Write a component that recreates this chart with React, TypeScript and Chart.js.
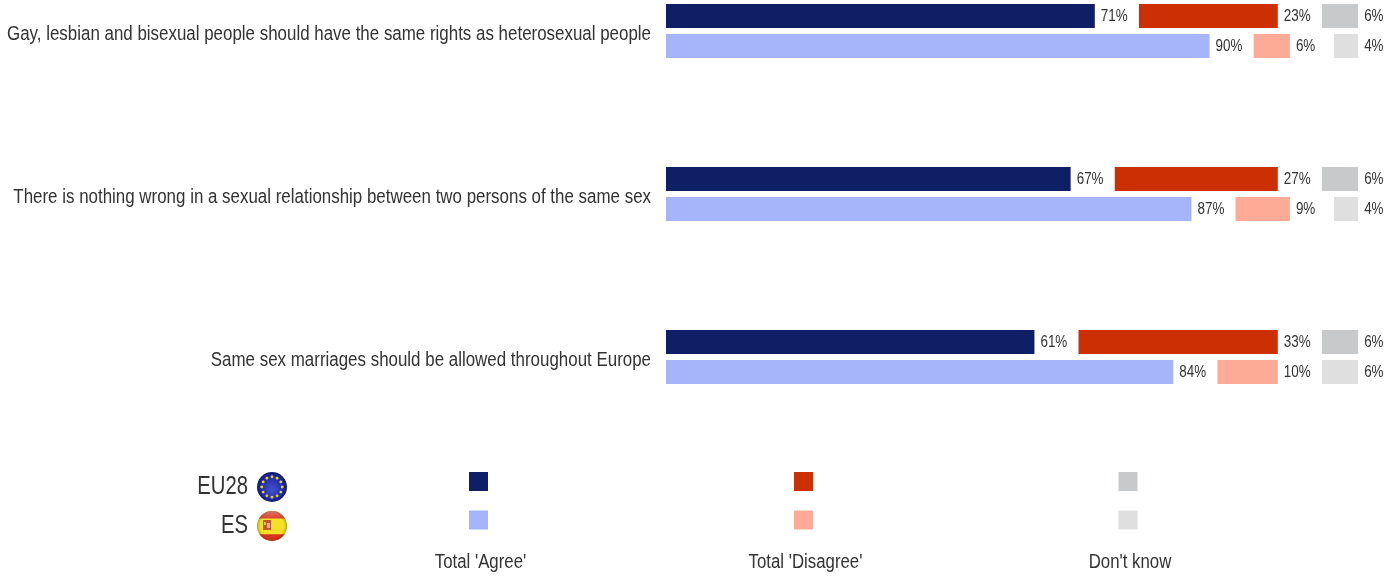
import React, { useEffect, useRef } from "react";
import { Chart, registerables } from "chart.js";

Chart.register(...registerables);

const categories = [
  "Gay, lesbian and bisexual people should have the same rights as heterosexual people",
  "There is nothing wrong in a sexual relationship between two persons of the same sex",
  "Same sex marriages should be allowed throughout Europe",
];
const euAgree = [71, 67, 61];
const euDisagree = [23, 27, 33];
const euDontKnow = [6, 6, 6];
const esAgree = [90, 87, 84];
const esDisagree = [6, 9, 10];
const esDontKnow = [4, 4, 6];
const spacer = [7.3, 7.3, 7.3];
const legendLabels = ["Total 'Agree'", "Total 'Disagree'", "Don't know"];
const geoLabels = ["EU28", "ES"];

const NAVY = "#0F1F66";
const RED = "#CC2F04";
const GREY = "#C8C9CB";
const BLUE = "#A6B5FA";
const SALMON = "#FDAA96";
const LGREY = "#DFDFDF";
const euColors = [NAVY, RED, GREY];
const esColors = [BLUE, SALMON, LGREY];
const FONT = '"Liberation Sans", sans-serif';
const TEXT = "#333333";

function bar(label: string, data: number[], stack: string, color: string) {
  return {
    label,
    data,
    stack,
    backgroundColor: color,
    borderWidth: 0,
    clip: false as const,
    categoryPercentage: 60 / 163,
    barPercentage: 0.8,
  };
}

// The reference uses a narrow face; none is installed, so the regular one is condensed horizontally.
function narrowText(
  ctx: CanvasRenderingContext2D,
  text: string,
  x: number,
  y: number,
  size: number,
  align: CanvasTextAlign,
  squeeze = 0.84
) {
  ctx.save();
  ctx.translate(x, y);
  ctx.scale(squeeze, 1);
  ctx.font = `${size}px ${FONT}`;
  ctx.fillStyle = TEXT;
  ctx.textAlign = align;
  ctx.textBaseline = "middle";
  ctx.fillText(text, 0, 0);
  ctx.restore();
}

function drawEuFlag(ctx: CanvasRenderingContext2D, cx: number, cy: number, r: number) {
  const g = ctx.createRadialGradient(cx, cy + 3, 2, cx, cy, r);
  g.addColorStop(0, "#3F4CC8");
  g.addColorStop(0.75, "#2029A0");
  g.addColorStop(1, "#10186A");
  ctx.fillStyle = g;
  ctx.beginPath();
  ctx.arc(cx, cy, r, 0, Math.PI * 2);
  ctx.fill();
  ctx.fillStyle = "#E4D528";
  for (let i = 0; i < 12; i++) {
    const a = (i * Math.PI) / 6;
    ctx.beginPath();
    ctx.arc(cx + Math.cos(a) * r * 0.68, cy + Math.sin(a) * r * 0.68, 1.4, 0, Math.PI * 2);
    ctx.fill();
  }
}

function drawEsFlag(ctx: CanvasRenderingContext2D, cx: number, cy: number, r: number) {
  ctx.save();
  ctx.beginPath();
  ctx.arc(cx, cy, r, 0, Math.PI * 2);
  ctx.clip();
  ctx.fillStyle = "#F4E024";
  ctx.fillRect(cx - r, cy - r, r * 2, r * 2);
  ctx.fillStyle = "#DA3420";
  ctx.fillRect(cx - r, cy - r, r * 2, r * 0.5);
  ctx.fillRect(cx - r, cy + r * 0.55, r * 2, r * 0.45);
  ctx.fillStyle = "#C4562E";
  ctx.fillRect(cx - 9, cy - 6, 8, 10);
  ctx.fillStyle = "#E0C070";
  ctx.fillRect(cx - 8, cy - 4, 2, 3);
  ctx.fillStyle = "#D9B2A0";
  ctx.fillRect(cx - 5, cy - 3, 3, 5);
  const g = ctx.createRadialGradient(cx, cy, r * 0.8, cx, cy, r);
  g.addColorStop(0, "rgba(0,0,0,0)");
  g.addColorStop(1, "rgba(110,30,0,0.3)");
  ctx.fillStyle = g;
  ctx.fillRect(cx - r, cy - r, r * 2, r * 2);
  const h = ctx.createLinearGradient(0, cy - r, 0, cy - r * 0.4);
  h.addColorStop(0, "rgba(255,255,255,0.35)");
  h.addColorStop(1, "rgba(255,255,255,0)");
  ctx.fillStyle = h;
  ctx.fillRect(cx - r, cy - r, r * 2, r);
  ctx.restore();
}

const valueLabels = {
  id: "valueLabels",
  afterDatasetsDraw(chart: any) {
    const ctx: CanvasRenderingContext2D = chart.ctx;
    chart.data.datasets.forEach((ds: any, di: number) => {
      if (ds.label === "gap") return;
      chart.getDatasetMeta(di).data.forEach((el: any, i: number) => {
        narrowText(ctx, `${ds.data[i]}%`, el.x + 6, el.y + 1, 16, "left");
      });
    });
    const y = chart.scales.y;
    categories.forEach((c, i) => {
      narrowText(ctx, c, y.right - 15, y.getPixelForTick(i) + 3, 20, "right", 0.846);
    });
  },
};

const legendPlugin = {
  id: "legendBlock",
  afterDraw(chart: any) {
    const ctx: CanvasRenderingContext2D = chart.ctx;
    const columns = [478.5, 803.5, 1128];
    const rows = [481.5, 520];
    columns.forEach((cx, c) => {
      [euColors[c], esColors[c]].forEach((color, r) => {
        ctx.fillStyle = color;
        ctx.fillRect(cx - 9.5, rows[r] - 9.5, 19, 19);
      });
      narrowText(ctx, legendLabels[c], cx + 2, 562, 20, "center");
    });
    narrowText(ctx, geoLabels[0], 248, 487, 25, "right", 0.81);
    narrowText(ctx, geoLabels[1], 248, 526, 25, "right", 0.81);
    drawEuFlag(ctx, 272, 487, 15);
    drawEsFlag(ctx, 272, 526, 15);
  },
};

export default function App() {
  const ref = useRef<HTMLCanvasElement>(null);
  useEffect(() => {
    const chart = new Chart(ref.current!, {
      type: "bar",
      data: {
        labels: categories,
        datasets: [
          bar("Total 'Agree' EU28", euAgree, "EU28", NAVY),
          bar("gap", spacer, "EU28", "transparent"),
          bar("Total 'Disagree' EU28", euDisagree, "EU28", RED),
          bar("gap", spacer, "EU28", "transparent"),
          bar("Don't know EU28", euDontKnow, "EU28", GREY),
          bar("Total 'Agree' ES", esAgree, "ES", BLUE),
          bar("gap", spacer, "ES", "transparent"),
          bar("Total 'Disagree' ES", esDisagree, "ES", SALMON),
          bar("gap", spacer, "ES", "transparent"),
          bar("Don't know ES", esDontKnow, "ES", LGREY),
        ],
      },
      options: {
        indexAxis: "y",
        animation: false,
        responsive: false,
        devicePixelRatio: 1,
        layout: { padding: { top: 31, bottom: 219, left: 0, right: 0 } },
        plugins: { legend: { display: false }, tooltip: { enabled: false } },
        scales: {
          x: { display: false, stacked: true, min: 0, max: 121.2 },
          y: {
            stacked: true,
            offset: false,
            grid: { display: false, drawTicks: false },
            border: { display: false },
            afterFit: (s: any) => {
              s.width = 666;
            },
            ticks: { display: false },
          },
        },
      },
      plugins: [valueLabels, legendPlugin],
    } as any);
    return () => chart.destroy();
  }, []);
  return (
    <div style={{ position: "absolute", left: 0, top: 0, width: 1398, height: 576, background: "#fff" }}>
      <canvas ref={ref} width={1398} height={576} style={{ display: "block" }} />
    </div>
  );
}
